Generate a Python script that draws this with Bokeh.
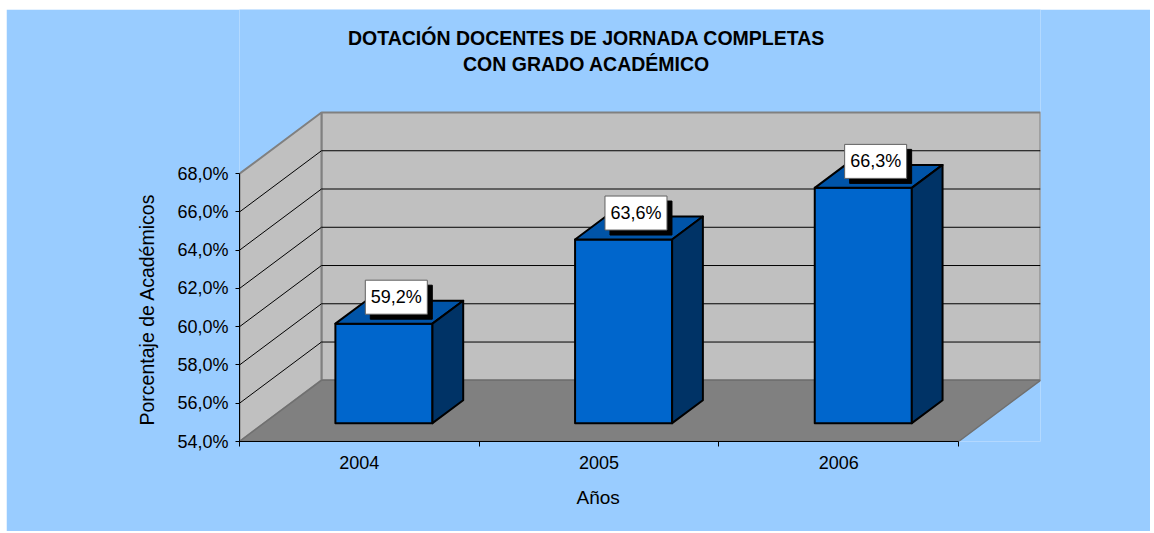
from bokeh.plotting import figure
from bokeh.models import LinearAxis, FixedTicker, Title
from bokeh.core.properties import value
from bokeh.embed import file_html
from bokeh.resources import INLINE

# ---- data ----
years = ["2004", "2005", "2006"]
pct = [59.2, 63.6, 66.3]
y_ticks = [54, 56, 58, 60, 62, 64, 66, 68]
y_tick_labels = ["54,0%", "56,0%", "58,0%", "60,0%", "62,0%", "64,0%", "66,0%", "68,0%"]
title_lines = ["DOTACIÓN DOCENTES DE JORNADA COMPLETAS", "CON GRADO ACADÉMICO"]
x_title = "Años"
y_title = "Porcentaje de Académicos"

# ---- layout / style ----
FONT = "Liberation Sans"
W, H = 1144, 522
BL, BR, BT, BB = 233, 110, 0, 90
FW, FH = W - BL - BR, H - BT - BB
YMIN, YMAX = y_ticks[0], y_ticks[-1]
NC = len(years)
DX = 0.342      # depth offset, category units
DY = 3.2        # depth offset, percent units
X_END = NC + DX
SX = FW / X_END
SY = 329 / (YMAX + DY - YMIN)       # px per percent (back wall height 329 px)
Y_END = YMIN + FH / SY              # frame extends up to the top (title area)
BAR_W = 0.405
F0, F1 = 0.3, 0.675
BG = "#99CCFF"
FRAME_LEFT, FRAME_BOTTOM = 6 + BL, 9 + H - BB   # page pixels


def px_x(page_x):
    return (page_x - FRAME_LEFT) / SX


def px_y(page_y):
    return YMIN + (FRAME_BOTTOM - page_y) / SY


p = figure(width=W, height=H, x_range=(0, X_END), y_range=(YMIN, Y_END),
           x_axis_type=None, y_axis_type=None, output_backend="svg",
           toolbar_location=None, min_border_left=BL, min_border_right=BR,
           min_border_top=BT, min_border_bottom=BB)
p.margin = (9, 0, 0, 6)
p.background_fill_color = BG
p.border_fill_color = BG
p.outline_line_color = None
p.xgrid.visible = False
p.ygrid.visible = False
p.title.visible = False

# walls and floor
p.patches(xs=[[DX, NC + DX, NC + DX, DX], [0, DX, DX, 0]],
          ys=[[YMIN + DY, YMIN + DY, YMAX + DY, YMAX + DY], [YMIN, YMIN + DY, YMAX + DY, YMAX]],
          fill_color="#C0C0C0", line_color="#808080", line_width=2)
p.patch(x=[0, NC, NC + DX, DX], y=[YMIN, YMIN, YMIN + DY, YMIN + DY],
        fill_color="#808080", line_color="#707070", line_width=1.5)

# gridlines on back and side walls
gx, gy = [], []
for t in y_ticks[1:-1]:
    gx.append([DX, NC + DX]); gy.append([t + DY, t + DY])
    gx.append([0, DX]); gy.append([t, t + DY])
p.multi_line(xs=gx, ys=gy, line_color="black", line_width=1)

# bars
fx, fy, tx, ty, sx_, sy_ = [], [], [], [], [], []
for i, v in enumerate(pct):
    cx = i + 0.5
    x0, x1 = cx - BAR_W / 2, cx + BAR_W / 2
    fx.append([x0 + F0 * DX, x1 + F0 * DX, x1 + F0 * DX, x0 + F0 * DX])
    fy.append([YMIN + F0 * DY, YMIN + F0 * DY, v + F0 * DY, v + F0 * DY])
    tx.append([x0 + F0 * DX, x1 + F0 * DX, x1 + F1 * DX, x0 + F1 * DX])
    ty.append([v + F0 * DY, v + F0 * DY, v + F1 * DY, v + F1 * DY])
    sx_.append([x1 + F0 * DX, x1 + F1 * DX, x1 + F1 * DX, x1 + F0 * DX])
    sy_.append([YMIN + F0 * DY, YMIN + F1 * DY, v + F1 * DY, v + F0 * DY])
p.patches(xs=fx, ys=fy, fill_color="#0066CC", line_color="black", line_width=2, line_join="round")
p.patches(xs=tx, ys=ty, fill_color="#0054A8", line_color="black", line_width=2, line_join="round")
p.patches(xs=sx_, ys=sy_, fill_color="#003366", line_color="black", line_width=2, line_join="round")

# data labels
lx = [i + 0.5 + (F0 + F1) / 2 * DX - 3 / SX for i in range(NC)]
ly = [v + (F0 + F1) / 2 * DY + 15 / SY for v in pct]
ltxt = [("%.1f" % v).replace(".", ",") + "%" for v in pct]
p.rect(x=[a + 5 / SX for a in lx], y=[b - 5 / SY for b in ly], width=62, height=34,
       width_units="screen", height_units="screen", fill_color="black", line_color="black")
p.rect(x=lx, y=ly, width=62, height=34, width_units="screen", height_units="screen",
       fill_color="white", line_color="#606060", line_width=1)
p.text(x=lx, y=ly, text=ltxt, text_align="center", text_baseline="middle",
       text_font=value(FONT), text_font_size="18px", text_color="black")

# chart title (two centred lines)
p.text(x=[px_x(586)] * 2, y=[px_y(37), px_y(63)], text=title_lines,
       text_align="center", text_baseline="middle", text_font=value(FONT),
       text_font_size="19.5px", text_font_style="bold", text_color="black")

# axes
yaxis = LinearAxis(ticker=FixedTicker(ticks=y_ticks, minor_ticks=[]), bounds=(YMIN, YMAX),
                   major_label_overrides={t: s for t, s in zip(y_ticks, y_tick_labels)},
                   major_label_text_font=FONT, major_label_text_font_size="18px",
                   major_label_text_color="black", major_label_standoff=7,
                   major_tick_out=4, major_tick_in=0, minor_tick_out=0, minor_tick_in=0,
                   axis_line_color="black", major_tick_line_color="black")
p.add_layout(yaxis, "left")

xaxis = LinearAxis(ticker=FixedTicker(ticks=[i + 0.5 for i in range(NC)],
                                      minor_ticks=list(range(NC + 1))),
                   bounds=(0, NC),
                   major_label_overrides={i + 0.5: y for i, y in enumerate(years)},
                   major_label_text_font=FONT, major_label_text_font_size="18px",
                   major_label_text_color="black", major_label_standoff=9,
                   major_tick_out=0, major_tick_in=0, minor_tick_out=5, minor_tick_in=0,
                   axis_line_color="black", minor_tick_line_color="black")
p.add_layout(xaxis, "below")

# axis titles (as titles so they can be centred on the front axes)
p.add_layout(Title(text=y_title, align="left", offset=16, standoff=34,
                   text_font=FONT, text_font_size="19.5px", text_font_style="normal",
                   text_color="black"), "left")
p.add_layout(Title(text=x_title, align="left", offset=337, standoff=26,
                   text_font=FONT, text_font_size="19px", text_font_style="normal",
                   text_color="black"), "below")

open("out.html", "w").write(file_html(p, INLINE))
